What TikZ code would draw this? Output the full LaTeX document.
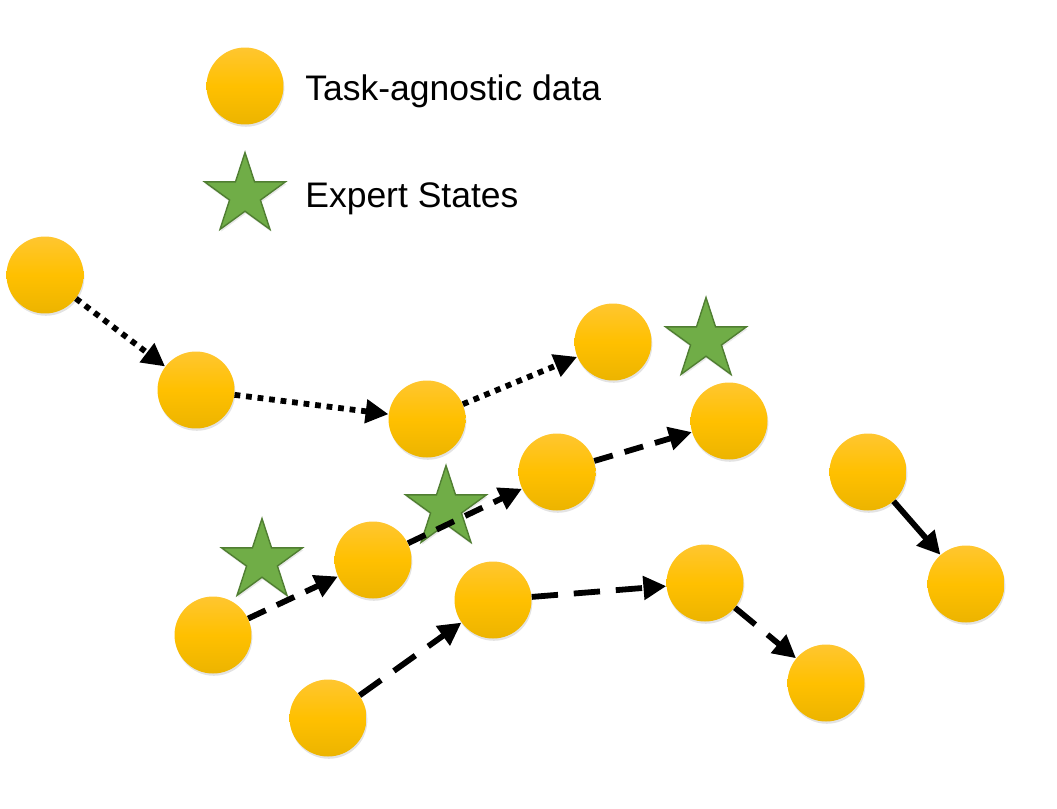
\documentclass[tikz,border=0pt]{standalone}
\usepackage{fontspec}
\setmainfont{Liberation Sans}
\usepackage{tikz}
\usetikzlibrary{arrows.meta,shapes.geometric,shadows}
\definecolor{SampleTop}{RGB}{255,198,48}
\definecolor{SampleMid}{RGB}{255,192,0}
\definecolor{SampleBot}{RGB}{236,180,0}
\definecolor{ExpertFill}{HTML}{70AD47}
\definecolor{ExpertLine}{HTML}{507E32}
\tikzset{
  sample/.style={circle, inner sep=0pt, minimum size=1.54cm,
    top color=SampleTop, bottom color=SampleBot, middle color=SampleMid,
    drop shadow={opacity=0.22, shadow xshift=0.5pt, shadow yshift=-1.3pt}},
  expert/.style={star, star points=5, star point ratio=2.618, inner sep=0pt,
    minimum size=1.7cm, fill=ExpertFill, draw=ExpertLine, line width=0.8pt,
    drop shadow={opacity=0.18, shadow xshift=0.5pt, shadow yshift=-1.3pt}},
  wire/.style={-{Triangle[length=13pt, width=13pt]}, line width=3.3pt, black},
  dotwire/.style={wire, dash pattern=on 3.3pt off 3.3pt},
  dashwire/.style={wire, dash pattern=on 11pt off 7pt},
  longdashwire/.style={wire, dash pattern=on 15pt off 9pt},
  solidwire/.style={wire},
  legendtext/.style={inner sep=0pt, font=\fontsize{20.2}{24}\selectfont}
}
\begin{document}
\begin{tikzpicture}[x=0.02cm, y=-0.02cm]
  \useasboundingbox (0,0) rectangle (1057,808);
  % legend
  \node[sample] (legsample) at (245,86) {};
  \node[legendtext, anchor=base west] (legsampletext) at (305,100) {Task-agnostic data};
  \node[expert] (legexpert) at (245,195) {};
  \node[legendtext, anchor=base west] (legexperttext) at (305,207) {Expert States};
  % expert states
  \node[expert] (exp1) at (706,340) {};
  \node[expert] (exp2) at (446,508) {};
  \node[expert] (exp3) at (262,561) {};
  % trajectory a
  \node[sample] (a1) at (45,275) {};
  \node[sample] (a2) at (196,390) {};
  \node[sample] (a3) at (427,419) {};
  \node[sample] (a4) at (613,342) {};
  % trajectory b
  \node[sample] (b1) at (213,635) {};
  \node[sample] (b2) at (373,560) {};
  \node[sample] (b3) at (557,472) {};
  \node[sample] (b4) at (729,421) {};
  % trajectory c
  \node[sample] (c1) at (328,718) {};
  \node[sample] (c2) at (493,600) {};
  \node[sample] (c3) at (705,583) {};
  \node[sample] (c4) at (826,683) {};
  % trajectory d
  \node[sample] (d1) at (868,472) {};
  \node[sample] (d2) at (966,584) {};
  \draw[dotwire] (a1) -- (a2);
  \draw[dotwire] (a2) -- (a3);
  \draw[dotwire] (a3) -- (a4);
  \draw[dashwire] (b1) -- (b2);
  \draw[dashwire] (b2) -- (b3);
  \draw[dashwire] (b3) -- (b4);
  \draw[longdashwire] (c1) -- (c2);
  \draw[longdashwire] (c2) -- (c3);
  \draw[longdashwire] (c3) -- (c4);
  \draw[solidwire] (d1) -- (d2);
\end{tikzpicture}
\end{document}
